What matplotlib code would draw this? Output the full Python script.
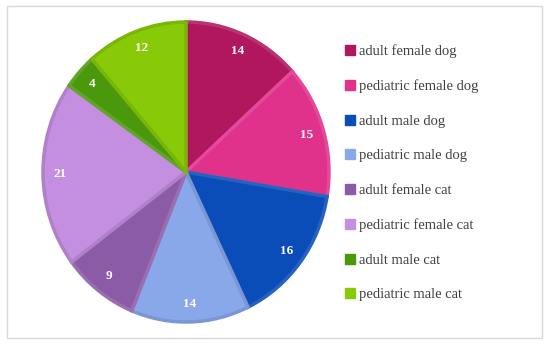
import matplotlib
matplotlib.use("Agg")
import matplotlib.pyplot as plt
from matplotlib.patches import Rectangle
from matplotlib.lines import Line2D
import numpy as np
import matplotlib.colors as mcolors

categories = ["adult female dog", "pediatric female dog", "adult male dog", "pediatric male dog",
              "adult female cat", "pediatric female cat", "adult male cat", "pediatric male cat"]
values = [14, 15, 16, 14, 9, 21, 4, 12]
colors = ["#B0175F", "#E0318B", "#0A4DB8", "#88A8EA", "#8C5BA8", "#C48FE0", "#4A990C", "#88CA08"]

W, H = 550, 344
fig = plt.figure(figsize=(W / 100, H / 100), dpi=100)
fig.patches.append(Rectangle((7 / W, 6 / H), 535 / W, 332 / H, transform=fig.transFigure,
                             fill=False, edgecolor="#d8d8d8", linewidth=1))

cx, cy, rx, ry = 186, 172, 143, 150
ax = fig.add_axes([(cx - rx) / W, (H - cy - ry) / H, 2 * rx / W, 2 * ry / H])

def edge(c):
    r, g, b = mcolors.to_rgb(c)
    lum = 0.3 * r + 0.59 * g + 0.11 * b
    if lum > 0.5:
        f = 0.9
        return (r * f, g * f, b * f)
    t = 0.12
    return (r + (1 - r) * t, g + (1 - g) * t, b + (1 - b) * t)

wedges, texts = ax.pie(values, colors=colors, startangle=90, counterclock=False,
                       labels=[str(v) for v in values], labeldistance=0.88,
                       wedgeprops=dict(linewidth=2.5, edgecolor="none"),
                       textprops=dict(color="white", fontsize=9.5, fontweight="bold",
                                      family="Liberation Serif", ha="center", va="center"))
for w, c in zip(wedges, colors):
    w.set_edgecolor(edge(c))
ax.set_aspect("auto")
ax.set_xlim(-1.0, 1.0)
ax.set_ylim(-1.0, 1.0)

handles = [Line2D([], [], marker="s", linestyle="none", markersize=6.5,
                  markerfacecolor=c, markeredgecolor=c) for c in colors]
leg = fig.legend(handles, categories, loc="upper left", bbox_to_anchor=(346 / W, (H - 44) / H),
                 frameon=False, handlelength=0.6, handletextpad=0.32, labelspacing=1.47,
                 borderaxespad=0, borderpad=0,
                 prop=dict(family="Liberation Serif", size=10.5))
for t in leg.get_texts():
    t.set_color("#404040")

fig.savefig("out.png", dpi=100)
